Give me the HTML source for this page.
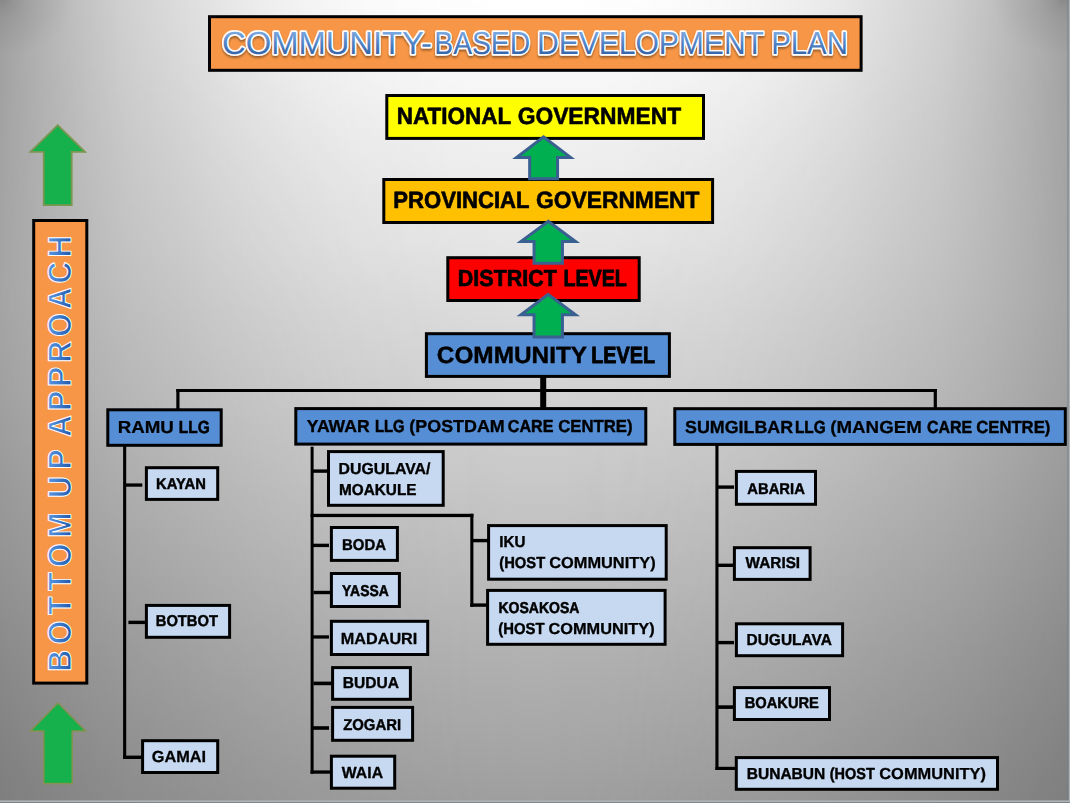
<!DOCTYPE html>
<html lang="en">
<head>
<meta charset="utf-8">
<title>Community-Based Development Plan</title>
<style>
html,body{margin:0;padding:0;background:#bdbdbd;}
body{width:1070px;height:803px;overflow:hidden;font-family:"Liberation Sans",sans-serif;}
svg{display:block;position:absolute;left:0;top:0;}
text{white-space:pre;text-rendering:geometricPrecision;}
</style>
</head>
<body>
<svg width="1070" height="803" viewBox="0 0 1070 803">
<defs>
<linearGradient id="gC" x1="0" y1="0" x2="0" y2="803" gradientUnits="userSpaceOnUse">
<stop offset="0" stop-color="#ffffff"/>
<stop offset="0.1" stop-color="#f7f7f7"/>
<stop offset="0.2" stop-color="#eeeeee"/>
<stop offset="0.3" stop-color="#e6e6e6"/>
<stop offset="0.39" stop-color="#dcdcdc"/>
<stop offset="0.6" stop-color="#c8c8c8"/>
<stop offset="0.81" stop-color="#b2b2b2"/>
<stop offset="0.99" stop-color="#a0a0a0"/>
<stop offset="1" stop-color="#9f9f9f"/>
</linearGradient>
<linearGradient id="gE" x1="0" y1="0" x2="0" y2="803" gradientUnits="userSpaceOnUse">
<stop offset="0" stop-color="#a1a1a1"/>
<stop offset="0.1" stop-color="#a1a1a1"/>
<stop offset="0.25" stop-color="#a3a3a3"/>
<stop offset="0.37" stop-color="#a4a4a4"/>
<stop offset="0.49" stop-color="#a0a0a0"/>
<stop offset="0.6" stop-color="#999999"/>
<stop offset="0.71" stop-color="#929292"/>
<stop offset="0.81" stop-color="#8a8a8a"/>
<stop offset="0.9" stop-color="#848484"/>
<stop offset="0.98" stop-color="#7f7f7f"/>
<stop offset="1" stop-color="#7e7e7e"/>
</linearGradient>
<linearGradient id="gUa" x1="0" y1="0" x2="1070" y2="0" gradientUnits="userSpaceOnUse">
<stop offset="0" stop-color="#ffffff"/>
<stop offset="0.04" stop-color="#cdcdcd"/>
<stop offset="0.08" stop-color="#a2a2a2"/>
<stop offset="0.12" stop-color="#7c7c7c"/>
<stop offset="0.17" stop-color="#5d5d5d"/>
<stop offset="0.21" stop-color="#424242"/>
<stop offset="0.25" stop-color="#2d2d2d"/>
<stop offset="0.29" stop-color="#1d1d1d"/>
<stop offset="0.33" stop-color="#101010"/>
<stop offset="0.38" stop-color="#080808"/>
<stop offset="0.42" stop-color="#030303"/>
<stop offset="0.46" stop-color="#010101"/>
<stop offset="0.5" stop-color="#000000"/>
<stop offset="0.54" stop-color="#010101"/>
<stop offset="0.58" stop-color="#030303"/>
<stop offset="0.62" stop-color="#080808"/>
<stop offset="0.67" stop-color="#101010"/>
<stop offset="0.71" stop-color="#1d1d1d"/>
<stop offset="0.75" stop-color="#2d2d2d"/>
<stop offset="0.79" stop-color="#424242"/>
<stop offset="0.83" stop-color="#5d5d5d"/>
<stop offset="0.88" stop-color="#7c7c7c"/>
<stop offset="0.92" stop-color="#a2a2a2"/>
<stop offset="0.96" stop-color="#cdcdcd"/>
<stop offset="1" stop-color="#ffffff"/>
</linearGradient>
<linearGradient id="gUb" x1="0" y1="0" x2="1070" y2="0" gradientUnits="userSpaceOnUse">
<stop offset="0" stop-color="#ffffff"/>
<stop offset="0.04" stop-color="#d9d9d9"/>
<stop offset="0.08" stop-color="#b6b6b6"/>
<stop offset="0.12" stop-color="#969696"/>
<stop offset="0.17" stop-color="#787878"/>
<stop offset="0.21" stop-color="#5e5e5e"/>
<stop offset="0.25" stop-color="#474747"/>
<stop offset="0.29" stop-color="#323232"/>
<stop offset="0.33" stop-color="#212121"/>
<stop offset="0.38" stop-color="#141414"/>
<stop offset="0.42" stop-color="#090909"/>
<stop offset="0.46" stop-color="#030303"/>
<stop offset="0.5" stop-color="#000000"/>
<stop offset="0.54" stop-color="#030303"/>
<stop offset="0.58" stop-color="#090909"/>
<stop offset="0.62" stop-color="#141414"/>
<stop offset="0.67" stop-color="#212121"/>
<stop offset="0.71" stop-color="#323232"/>
<stop offset="0.75" stop-color="#474747"/>
<stop offset="0.79" stop-color="#5e5e5e"/>
<stop offset="0.83" stop-color="#787878"/>
<stop offset="0.88" stop-color="#969696"/>
<stop offset="0.92" stop-color="#b6b6b6"/>
<stop offset="0.96" stop-color="#d9d9d9"/>
<stop offset="1" stop-color="#ffffff"/>
</linearGradient>
<linearGradient id="gW" x1="0" y1="0" x2="0" y2="803" gradientUnits="userSpaceOnUse">
<stop offset="0" stop-color="#fff" stop-opacity="0"/>
<stop offset="0.07" stop-color="#fff" stop-opacity="0"/>
<stop offset="0.39" stop-color="#fff" stop-opacity="0.55"/>
<stop offset="1" stop-color="#fff" stop-opacity="1"/>
</linearGradient>
<mask id="mW" maskUnits="userSpaceOnUse" x="0" y="0" width="1070" height="803"><rect width="1070" height="803" fill="url(#gW)"/></mask>
<mask id="mU" maskUnits="userSpaceOnUse" x="0" y="0" width="1070" height="803"><rect width="1070" height="803" fill="url(#gUa)"/><g mask="url(#mW)"><rect width="1070" height="803" fill="url(#gUb)"/></g></mask>
<radialGradient id="gK" cx="0.5" cy="0.5" r="0.5"><stop offset="0" stop-color="#000" stop-opacity="0.16"/><stop offset="0.15" stop-color="#000" stop-opacity="0.105"/><stop offset="0.35" stop-color="#000" stop-opacity="0.066"/><stop offset="0.7" stop-color="#000" stop-opacity="0.035"/><stop offset="1" stop-color="#000" stop-opacity="0"/></radialGradient>
<filter id="sh" x="-5%" y="-30%" width="110%" height="180%"><feGaussianBlur in="SourceAlpha" stdDeviation="1.2"/><feOffset dx="0.3" dy="1.5"/><feComponentTransfer><feFuncA type="linear" slope="0.38"/></feComponentTransfer><feMerge><feMergeNode/><feMergeNode in="SourceGraphic"/></feMerge></filter>
</defs>
<rect width="1070" height="803" fill="url(#gC)"/>
<rect width="1070" height="803" fill="url(#gE)" mask="url(#mU)"/>
<ellipse cx="3" cy="0" rx="72" ry="56" fill="url(#gK)"/>
<ellipse cx="1063" cy="0" rx="72" ry="56" fill="url(#gK)"/>
<g id="connectors">
<rect x="540.2" y="376" width="6" height="32.5" fill="#000"/>
<rect x="176.3" y="389" width="760.6" height="3" fill="#000"/>
<rect x="176.3" y="389" width="3.2" height="20.5" fill="#000"/>
<rect x="933.7" y="389" width="3.2" height="19.5" fill="#000"/>
<rect x="123.1" y="445" width="3.1" height="314" fill="#000"/>
<rect x="126" y="483.4" width="16.3" height="3.3" fill="#000"/>
<rect x="128.4" y="620.7" width="17.6" height="3.4" fill="#000"/>
<rect x="123.1" y="755.6" width="19.4" height="3.4" fill="#000"/>
<rect x="310.6" y="446.7" width="3" height="327" fill="#000"/>
<rect x="313" y="469.4" width="15" height="3.4" fill="#000"/>
<rect x="310.6" y="513.8" width="162.8" height="3.3" fill="#000"/>
<rect x="313" y="543.7" width="16" height="3.4" fill="#000"/>
<rect x="313.5" y="590.8" width="17.5" height="3.4" fill="#000"/>
<rect x="313" y="635.3" width="16" height="3.3" fill="#000"/>
<rect x="313.5" y="681.6" width="18.5" height="3.6" fill="#000"/>
<rect x="313" y="726.2" width="16" height="3.6" fill="#000"/>
<rect x="310.6" y="770.4" width="20.4" height="3.3" fill="#000"/>
<rect x="470.3" y="513.8" width="3.1" height="93" fill="#000"/>
<rect x="473" y="538.9" width="15.5" height="3.4" fill="#000"/>
<rect x="470.3" y="603.4" width="17.2" height="3.4" fill="#000"/>
<rect x="715.4" y="444" width="3.1" height="326" fill="#000"/>
<rect x="718" y="485.4" width="16" height="3.4" fill="#000"/>
<rect x="718" y="563.6" width="16.5" height="3.4" fill="#000"/>
<rect x="718" y="640.9" width="16" height="3.4" fill="#000"/>
<rect x="718" y="705.3" width="16.5" height="3.6" fill="#000"/>
<rect x="715.4" y="766.8" width="21.1" height="3.2" fill="#000"/>
</g>
<g id="boxes">
<rect x="209.5" y="16.7" width="651.6" height="53.6" fill="#F79646" stroke="#000" stroke-width="3"/>
<rect x="386.8" y="95.5" width="316.7" height="42.9" fill="#FFFF00" stroke="#000" stroke-width="3"/>
<rect x="383.8" y="179.5" width="328.8" height="43" fill="#FFC000" stroke="#000" stroke-width="3"/>
<rect x="447.8" y="257.7" width="191.4" height="42.8" fill="#FF0000" stroke="#000" stroke-width="3"/>
<rect x="426.4" y="333.7" width="243" height="42.7" fill="#558ED5" stroke="#000" stroke-width="3"/>
<rect x="107.8" y="409.8" width="113.4" height="35.5" fill="#558ED5" stroke="#000" stroke-width="3"/>
<rect x="295.8" y="408.6" width="350" height="35.5" fill="#558ED5" stroke="#000" stroke-width="3"/>
<rect x="674.8" y="408.7" width="390.5" height="35.7" fill="#558ED5" stroke="#000" stroke-width="3"/>
<rect x="33.7" y="220.5" width="53.1" height="462.6" fill="#F79646" stroke="#000" stroke-width="3"/>
<rect x="146.4" y="467.7" width="71.3" height="31.7" fill="#C6D9F1" stroke="#000" stroke-width="3"/>
<rect x="146.4" y="605.4" width="83.2" height="31.9" fill="#C6D9F1" stroke="#000" stroke-width="3"/>
<rect x="142.6" y="740.7" width="75.1" height="31.8" fill="#C6D9F1" stroke="#000" stroke-width="3"/>
<rect x="328.5" y="451.6" width="114.7" height="53.7" fill="#C6D9F1" stroke="#000" stroke-width="3"/>
<rect x="331.4" y="527.5" width="66" height="32.9" fill="#C6D9F1" stroke="#000" stroke-width="3"/>
<rect x="331.4" y="573.5" width="68" height="33" fill="#C6D9F1" stroke="#000" stroke-width="3"/>
<rect x="331.4" y="621.3" width="96.3" height="33.2" fill="#C6D9F1" stroke="#000" stroke-width="3"/>
<rect x="332.6" y="667.6" width="77.8" height="31.7" fill="#C6D9F1" stroke="#000" stroke-width="3"/>
<rect x="332.6" y="707.4" width="80" height="32.9" fill="#C6D9F1" stroke="#000" stroke-width="3"/>
<rect x="331.4" y="756.2" width="63.3" height="32" fill="#C6D9F1" stroke="#000" stroke-width="3"/>
<rect x="488.6" y="525.6" width="177.6" height="53.6" fill="#C6D9F1" stroke="#000" stroke-width="3"/>
<rect x="487.6" y="590.4" width="177.5" height="53.9" fill="#C6D9F1" stroke="#000" stroke-width="3"/>
<rect x="736.4" y="471.4" width="79.1" height="32.9" fill="#C6D9F1" stroke="#000" stroke-width="3"/>
<rect x="734.4" y="547.7" width="75.7" height="31.7" fill="#C6D9F1" stroke="#000" stroke-width="3"/>
<rect x="736.4" y="623.8" width="106.2" height="31.9" fill="#C6D9F1" stroke="#000" stroke-width="3"/>
<rect x="734.4" y="687.6" width="95.1" height="31.9" fill="#C6D9F1" stroke="#000" stroke-width="3"/>
<rect x="736.3" y="757.6" width="261.2" height="31.7" fill="#C6D9F1" stroke="#000" stroke-width="3"/>
</g>
<g id="arrows">
<polygon points="543.6,137 570.6,157.4 557.55,157.4 557.55,178.8 529.65,178.8 529.65,157.4 516.6,157.4" fill="#00B050" stroke="#3A6091" stroke-width="3" stroke-linejoin="miter"/>
<polygon points="548.25,221.3 575.5,241.5 562.45,241.5 562.45,263.3 534.05,263.3 534.05,241.5 521,241.5" fill="#00B050" stroke="#3A6091" stroke-width="3" stroke-linejoin="miter"/>
<polygon points="548.25,294.4 575.5,314.7 562.45,314.7 562.45,336.9 534.05,336.9 534.05,314.7 521,314.7" fill="#00B050" stroke="#3A6091" stroke-width="3" stroke-linejoin="miter"/>
<polygon points="57.7,125.2 85,151.8 71.7,151.8 71.7,205.1 43.7,205.1 43.7,151.8 30.4,151.8" fill="#16B04C" stroke="#7B9650" stroke-width="1.8" stroke-linejoin="miter"/>
<polygon points="58,703 85.5,730.9 72.2,730.9 72.2,783.5 43.8,783.5 43.8,730.9 30.5,730.9" fill="#16B04C" stroke="#84924F" stroke-width="1.5" stroke-linejoin="miter"/>
</g>
<g id="labels" fill="#000" stroke="#000" stroke-width="0" stroke-linejoin="round" font-family="'Liberation Sans',sans-serif" opacity="0.999">
<text y="124.3" font-size="23.55" font-weight="bold"><tspan x="396.71" textLength="114.18" lengthAdjust="spacingAndGlyphs" stroke-width="0.61">NATIONAL</tspan> <tspan x="517.65" textLength="163.5" lengthAdjust="spacingAndGlyphs" stroke-width="0.58">GOVERNMENT</tspan></text>
<text y="208.29" font-size="23.52" font-weight="bold"><tspan x="393.25" textLength="135.9" lengthAdjust="spacingAndGlyphs" stroke-width="0.66">PROVINCIAL</tspan> <tspan x="535.95" textLength="163.6" lengthAdjust="spacingAndGlyphs" stroke-width="0.58">GOVERNMENT</tspan></text>
<text y="286.2" font-size="23.26" font-weight="bold"><tspan x="457.82" textLength="99.06" lengthAdjust="spacingAndGlyphs" stroke-width="0.71">DISTRICT</tspan> <tspan x="563.43" textLength="63.34" lengthAdjust="spacingAndGlyphs" stroke-width="0.88">LEVEL</tspan></text>
<text y="362.88" font-size="23.48" font-weight="bold"><tspan x="436.82" textLength="149.86" lengthAdjust="spacingAndGlyphs" stroke-width="0.43">COMMUNITY</tspan> <tspan x="591.21" textLength="63.87" lengthAdjust="spacingAndGlyphs" stroke-width="0.87">LEVEL</tspan></text>
<text y="432.61" font-size="17.46" font-weight="bold"><tspan x="117.66" textLength="56.27" lengthAdjust="spacingAndGlyphs" stroke-width="0.23">RAMU</tspan> <tspan x="178.84" textLength="30.84" lengthAdjust="spacingAndGlyphs" stroke-width="0.55">LLG</tspan></text>
<text y="432.38" font-size="17.39" font-weight="bold"><tspan x="306.77" textLength="62.92" lengthAdjust="spacingAndGlyphs" stroke-width="0.34">YAWAR</tspan> <tspan x="375.01" textLength="29.6" lengthAdjust="spacingAndGlyphs" stroke-width="0.61">LLG</tspan> <tspan x="409.37" textLength="95.37" lengthAdjust="spacingAndGlyphs" stroke-width="0.32">(POSTDAM</tspan> <tspan x="507.78" textLength="45.7" lengthAdjust="spacingAndGlyphs" stroke-width="0.49">CARE</tspan> <tspan x="558.23" textLength="74.39" lengthAdjust="spacingAndGlyphs" stroke-width="0.43">CENTRE)</tspan></text>
<text y="432.69" font-size="17.42" font-weight="bold"><tspan x="685.05" textLength="108.06" lengthAdjust="spacingAndGlyphs" stroke-width="0.32">SUMGILBAR</tspan> <tspan x="794.95" textLength="30.73" lengthAdjust="spacingAndGlyphs" stroke-width="0.55">LLG</tspan> <tspan x="830.28" textLength="91.55" lengthAdjust="spacingAndGlyphs" stroke-width="0.23">(MANGEM</tspan> <tspan x="927" textLength="45.17" lengthAdjust="spacingAndGlyphs" stroke-width="0.51">CARE</tspan> <tspan x="976.24" textLength="74.07" lengthAdjust="spacingAndGlyphs" stroke-width="0.44">CENTRE)</tspan></text>
<text y="488.68" font-size="15.79" font-weight="bold"><tspan x="156.03" textLength="49.85" lengthAdjust="spacingAndGlyphs" stroke-width="0.44">KAYAN</tspan></text>
<text y="626.48" font-size="15.78" font-weight="bold"><tspan x="155.73" textLength="62.3" lengthAdjust="spacingAndGlyphs" stroke-width="0.44">BOTBOT</tspan></text>
<text y="761.76" font-size="16" font-weight="bold"><tspan x="151.78" textLength="54.27" lengthAdjust="spacingAndGlyphs" stroke-width="0.29">GAMAI</tspan></text>
<text y="474.23" font-size="15.93" font-weight="bold"><tspan x="338.61" textLength="91.78" lengthAdjust="spacingAndGlyphs" stroke-width="0.34">DUGULAVA/</tspan></text>
<text y="494.81" font-size="15.86" font-weight="bold"><tspan x="339.07" textLength="77.43" lengthAdjust="spacingAndGlyphs" stroke-width="0.39">MOAKULE</tspan></text>
<text y="549.69" font-size="15.81" font-weight="bold"><tspan x="342.12" textLength="43.86" lengthAdjust="spacingAndGlyphs" stroke-width="0.43">BODA</tspan></text>
<text y="595.54" font-size="15.66" font-weight="bold"><tspan x="342.12" textLength="46.68" lengthAdjust="spacingAndGlyphs" stroke-width="0.52">YASSA</tspan></text>
<text y="643.55" font-size="15.99" font-weight="bold"><tspan x="340.76" textLength="76.57" lengthAdjust="spacingAndGlyphs" stroke-width="0.3">MADAURI</tspan></text>
<text y="688.42" font-size="15.9" font-weight="bold"><tspan x="342.84" textLength="56.19" lengthAdjust="spacingAndGlyphs" stroke-width="0.36">BUDUA</tspan></text>
<text y="729.79" font-size="15.8" font-weight="bold"><tspan x="343.17" textLength="58.02" lengthAdjust="spacingAndGlyphs" stroke-width="0.43">ZOGARI</tspan></text>
<text y="777.63" font-size="15.94" font-weight="bold"><tspan x="341.85" textLength="41.19" lengthAdjust="spacingAndGlyphs" stroke-width="0.34">WAIA</tspan></text>
<text y="546.51" font-size="15.86" font-weight="bold"><tspan x="499.28" textLength="26.16" lengthAdjust="spacingAndGlyphs" stroke-width="0.39">IKU</tspan></text>
<text y="567.52" font-size="15.9" font-weight="bold"><tspan x="499.29" textLength="45.85" lengthAdjust="spacingAndGlyphs" stroke-width="0.44">(HOST</tspan> <tspan x="549.17" textLength="106.51" lengthAdjust="spacingAndGlyphs" stroke-width="0.28">COMMUNITY)</tspan></text>
<text y="612.64" font-size="15.67" font-weight="bold"><tspan x="498.42" textLength="80.99" lengthAdjust="spacingAndGlyphs" stroke-width="0.52">KOSAKOSA</tspan></text>
<text y="633.72" font-size="15.9" font-weight="bold"><tspan x="498.27" textLength="46.27" lengthAdjust="spacingAndGlyphs" stroke-width="0.43">(HOST</tspan> <tspan x="548.47" textLength="106.2" lengthAdjust="spacingAndGlyphs" stroke-width="0.29">COMMUNITY)</tspan></text>
<text y="493.58" font-size="15.79" font-weight="bold"><tspan x="747.25" textLength="57.62" lengthAdjust="spacingAndGlyphs" stroke-width="0.44">ABARIA</tspan></text>
<text y="568.41" font-size="15.87" font-weight="bold"><tspan x="745.58" textLength="54.56" lengthAdjust="spacingAndGlyphs" stroke-width="0.38">WARISI</tspan></text>
<text y="644.71" font-size="15.88" font-weight="bold"><tspan x="746.55" textLength="85.26" lengthAdjust="spacingAndGlyphs" stroke-width="0.38">DUGULAVA</tspan></text>
<text y="708.37" font-size="15.77" font-weight="bold"><tspan x="744.64" textLength="74.31" lengthAdjust="spacingAndGlyphs" stroke-width="0.45">BOAKURE</tspan></text>
<text y="778.51" font-size="15.88" font-weight="bold"><tspan x="746.74" textLength="78.52" lengthAdjust="spacingAndGlyphs" stroke-width="0.37">BUNABUN</tspan> <tspan x="829.81" textLength="45.01" lengthAdjust="spacingAndGlyphs" stroke-width="0.47">(HOST</tspan> <tspan x="879.27" textLength="106.71" lengthAdjust="spacingAndGlyphs" stroke-width="0.28">COMMUNITY)</tspan></text>
</g>
<defs>
<linearGradient id="gT" x1="0" y1="31.6" x2="0" y2="53.6" gradientUnits="userSpaceOnUse"><stop offset="0" stop-color="#7ca9e1"/><stop offset="0.5" stop-color="#5386c8"/><stop offset="1" stop-color="#3867ab"/></linearGradient>
<text id="tTitle" y="53.6" font-size="31.98" font-weight="normal" font-family="'Liberation Sans',sans-serif"><tspan x="222.04" textLength="209.82" lengthAdjust="spacingAndGlyphs">COMMUNITY-</tspan><tspan x="434.28" textLength="95.87" lengthAdjust="spacingAndGlyphs">BASED</tspan> <tspan x="537.04" textLength="226.34" lengthAdjust="spacingAndGlyphs">DEVELOPMENT</tspan> <tspan x="771.19" textLength="76.7" lengthAdjust="spacingAndGlyphs">PLAN</tspan></text>
</defs>
<use href="#tTitle" fill="#fff" stroke="#fff" stroke-width="3.3" stroke-linejoin="round" filter="url(#sh)"/>
<use href="#tTitle" fill="url(#gT)"/>
<defs>
<linearGradient id="gV" x1="0" y1="-22.6" x2="0" y2="0" gradientUnits="userSpaceOnUse"><stop offset="0" stop-color="#5a94de"/><stop offset="0.5" stop-color="#3b79c9"/><stop offset="1" stop-color="#2557a5"/></linearGradient>
<text id="tSide" y="0" font-size="32.85" font-weight="bold" font-family="'Liberation Sans',sans-serif"><tspan x="-1.33" textLength="172.98" lengthAdjust="spacing">BOTTOM</tspan> <tspan x="187.48" textLength="52.23" lengthAdjust="spacing">UP</tspan> <tspan x="253.86" textLength="218.68" lengthAdjust="spacing">APPROACH</tspan></text>
</defs>
<g transform="translate(71.3,670.5) rotate(-90) scale(0.92,1)">
<use href="#tSide" fill="url(#gV)" stroke="#fff" stroke-width="1" stroke-linejoin="round"/>
</g>
<rect x="1067.2" y="0" width="1.7" height="803" fill="#767c82" fill-opacity="0.55"/>
<rect x="1068.8" y="0" width="1.2" height="803" fill="#adb2b7"/>
<rect x="0" y="800.4" width="1070" height="1.8" fill="#aeb2b6"/>
<rect x="0" y="802.2" width="1070" height="0.8" fill="#7d8082"/>
</svg>
</body>
</html>
